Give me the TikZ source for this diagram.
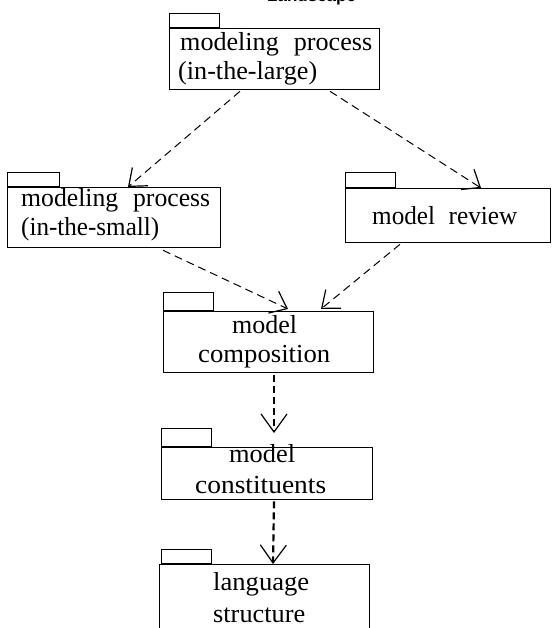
\documentclass[tikz,border=0pt]{standalone}
\usepackage{fontspec}
\setmainfont{Liberation Serif}
\newfontfamily\titlefont{Liberation Sans}
\usetikzlibrary{arrows.meta,calc}
\newcommand{\fw}[2]{\resizebox{#1pt}{\height}{#2}}
\begin{document}
\begin{tikzpicture}[x=1pt,y=-1pt,
 pkg/.style={draw,line width=1.3pt,inner sep=0pt,anchor=north west},
 tabbox/.style={draw,line width=1.3pt,inner sep=0pt,anchor=south west,minimum width=50pt},
 lbl/.style={inner sep=0pt,anchor=base west,font=\fontsize{26}{29}\selectfont},
 dep/.style={dash pattern=on 8pt off 5pt,line width=1pt,-{Straight Barb[length=15pt,width=24pt,line width=1.2pt]}},
 depv/.style={dash pattern=on 7pt off 4pt,line width=2.2pt,-{Straight Barb[length=18pt,width=26pt,line width=1.2pt]}}]
\useasboundingbox (0,0) rectangle (552,628);
% title (mostly above the page)
\node[inner sep=0pt,anchor=base west,font=\titlefont\bfseries\fontsize{17}{20}\selectfont] (title) at (267,1.2) {Landscape};
% packages
\node[pkg,minimum width=210pt,minimum height=61pt] (p1) at (169,28) {};
\node[tabbox,minimum height=14pt] (t1) at (p1.north west) {};
\node[pkg,minimum width=213pt,minimum height=60pt] (p2) at (7,187) {};
\node[tabbox,minimum height=14pt,minimum width=52pt] (t2) at (p2.north west) {};
\node[pkg,minimum width=205pt,minimum height=54pt] (p3) at (345,188) {};
\node[tabbox,minimum height=15pt] (t3) at (p3.north west) {};
\node[pkg,minimum width=210pt,minimum height=61pt] (p4) at (163,311) {};
\node[tabbox,minimum height=18pt] (t4) at (p4.north west) {};
\node[pkg,minimum width=211pt,minimum height=52pt] (p5) at (161,447) {};
\node[tabbox,minimum height=18pt] (t5) at (p5.north west) {};
\node[pkg,minimum width=210pt,minimum height=80pt] (p6) at (159,564) {};
\node[tabbox,minimum height=14pt] (t6) at ($(p6.north west)+(2,0)$) {};
% labels
\node[lbl] (l1a) at (180,50.7) {\fw{192}{modeling\hspace{15pt}process}};
\node[lbl] (l1b) at (178,80) {\fw{139}{(in-the-large)}};
\node[lbl] (l2a) at (21,206.7) {\fw{189}{modeling\hspace{15pt}process}};
\node[lbl] (l2b) at (21,235) {\fw{138}{(in-the-small)}};
\node[lbl] (l3) at (372,224) {\fw{145}{model\hspace{14pt}review}};
\node[lbl] (l4a) at (232,333) {\fw{65}{model}};
\node[lbl] (l4b) at (198,362) {\fw{132}{composition}};
\node[lbl] (l5a) at (229,462) {\fw{66}{model}};
\node[lbl] (l5b) at (195,493) {\fw{131}{constituents}};
\node[lbl] (l6a) at (213,590) {\fw{96}{language}};
\node[lbl] (l6b) at (213,622) {\fw{92}{structure}};
% dependencies
\coordinate (e5) at ($(p5.north west)+(113,-14)$);
\draw[dep] ($(p1.south west)+(71,1)$) -- ($(p2.north west)+(121,0)$);
\draw[dep] ($(p1.south west)+(161,1)$) -- ($(p3.north west)+(136,0)$);
\draw[dep] ($(p2.south west)+(156,2)$) -- ($(p4.north west)+(125,-2)$);
\draw[dep] ($(p3.south west)+(55,1)$) -- ($(p4.north west)+(158,-2)$);
\draw[depv] ($(p4.south west)+(111,2)$) -- (e5);
\draw[depv] ($(p5.south west)+(113,1)$) -- ($(p6.north west)+(114,0)$);
\end{tikzpicture}
\end{document}
